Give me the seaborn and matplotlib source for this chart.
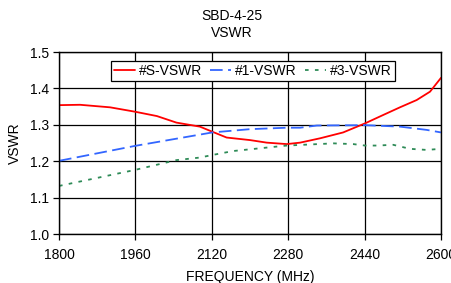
import matplotlib
matplotlib.use("Agg")
import matplotlib.pyplot as plt
import seaborn as sns
import pandas as pd

freq_s = [1800, 1844, 1907, 1959, 2005, 2046, 2095, 2121, 2151, 2200, 2235, 2277, 2305, 2347, 2395, 2441, 2479, 2514, 2549, 2577, 2600]
vswr_s = [1.354, 1.355, 1.348, 1.336, 1.324, 1.306, 1.295, 1.281, 1.265, 1.258, 1.251, 1.247, 1.251, 1.263, 1.279, 1.304, 1.327, 1.348, 1.368, 1.391, 1.429]

freq_1 = [1800, 1959, 2121, 2200, 2277, 2305, 2340, 2441, 2514, 2570, 2600]
vswr_1 = [1.201, 1.242, 1.279, 1.288, 1.292, 1.292, 1.298, 1.299, 1.295, 1.286, 1.279]

freq_3 = [1800, 1959, 2046, 2095, 2121, 2165, 2277, 2375, 2416, 2441, 2465, 2500, 2535, 2570, 2600]
vswr_3 = [1.132, 1.176, 1.203, 1.210, 1.217, 1.228, 1.243, 1.249, 1.247, 1.243, 1.243, 1.245, 1.234, 1.231, 1.234]

series_names = ["#S-VSWR", "#1-VSWR", "#3-VSWR"]
x_ticks = [1800, 1960, 2120, 2280, 2440, 2600]
y_ticks = [1.0, 1.1, 1.2, 1.3, 1.4, 1.5]

sns.set_theme(style="white")
plt.rcParams['font.family'] = ['Liberation Sans', 'DejaVu Sans']
plt.rcParams['text.color'] = 'black'
plt.rcParams['axes.labelcolor'] = 'black'
plt.rcParams['xtick.color'] = 'black'
plt.rcParams['ytick.color'] = 'black'

df = pd.concat([
    pd.DataFrame({"freq": freq_s, "vswr": vswr_s, "series": series_names[0]}),
    pd.DataFrame({"freq": freq_1, "vswr": vswr_1, "series": series_names[1]}),
    pd.DataFrame({"freq": freq_3, "vswr": vswr_3, "series": series_names[2]}),
])

FS = 10
W, H = 452, 283
fig = plt.figure(figsize=(W / 100, H / 100), dpi=100)
ax = fig.add_axes([59 / W, (H - 234) / H, 382 / W, 182 / H])

colors = ["#ff0000", "#3366ff", "#2e8b57"]
styles = ["-", (0, (7, 3)), (0, (2, 3.5))]
for name, c, ls in zip(series_names, colors, styles):
    sub = df[df.series == name]
    sns.lineplot(data=sub, x="freq", y="vswr", ax=ax, color=c, linestyle=ls,
                 linewidth=1.3, label=name)

ax.set_xlim(1800, 2600)
ax.set_ylim(1.0, 1.5)
ax.set_xticks(x_ticks)
ax.set_yticks(y_ticks)
ax.set_xticklabels([str(t) for t in x_ticks])
ax.set_yticklabels([f"{t:.1f}" for t in y_ticks])
ax.grid(True, color="black", linewidth=0.9)
for s in ax.spines.values():
    s.set_color("black")
    s.set_linewidth(1.0)
ax.tick_params(axis="both", which="both", direction="out", length=4, width=0.9,
               color="black", labelsize=FS, pad=3, left=True, bottom=True,
               labelcolor="black")
ax.tick_params(axis="x", pad=6)
ax.set_xlabel("FREQUENCY (MHz)", fontsize=FS, labelpad=6, color="black")
ax.set_ylabel("VSWR", fontsize=FS, labelpad=6, color="black")

leg = ax.legend(loc="upper center", bbox_to_anchor=((253 - 59) / 382, 0.95), ncol=3, fontsize=FS,
                frameon=True, fancybox=False, edgecolor="black", framealpha=1,
                handlelength=1.5, handletextpad=0.3, columnspacing=0.6,
                borderpad=0.2, borderaxespad=0)
leg.get_frame().set_linewidth(0.9)
for t in leg.get_texts():
    t.set_color("black")

fig.text(232 / W, 1 - 16 / H, "SBD-4-25", ha="center", va="center", fontsize=FS, color="black")
fig.text(232 / W, 1 - 33 / H, "VSWR", ha="center", va="center", fontsize=FS, color="black")

fig.savefig("out.png", dpi=100)
